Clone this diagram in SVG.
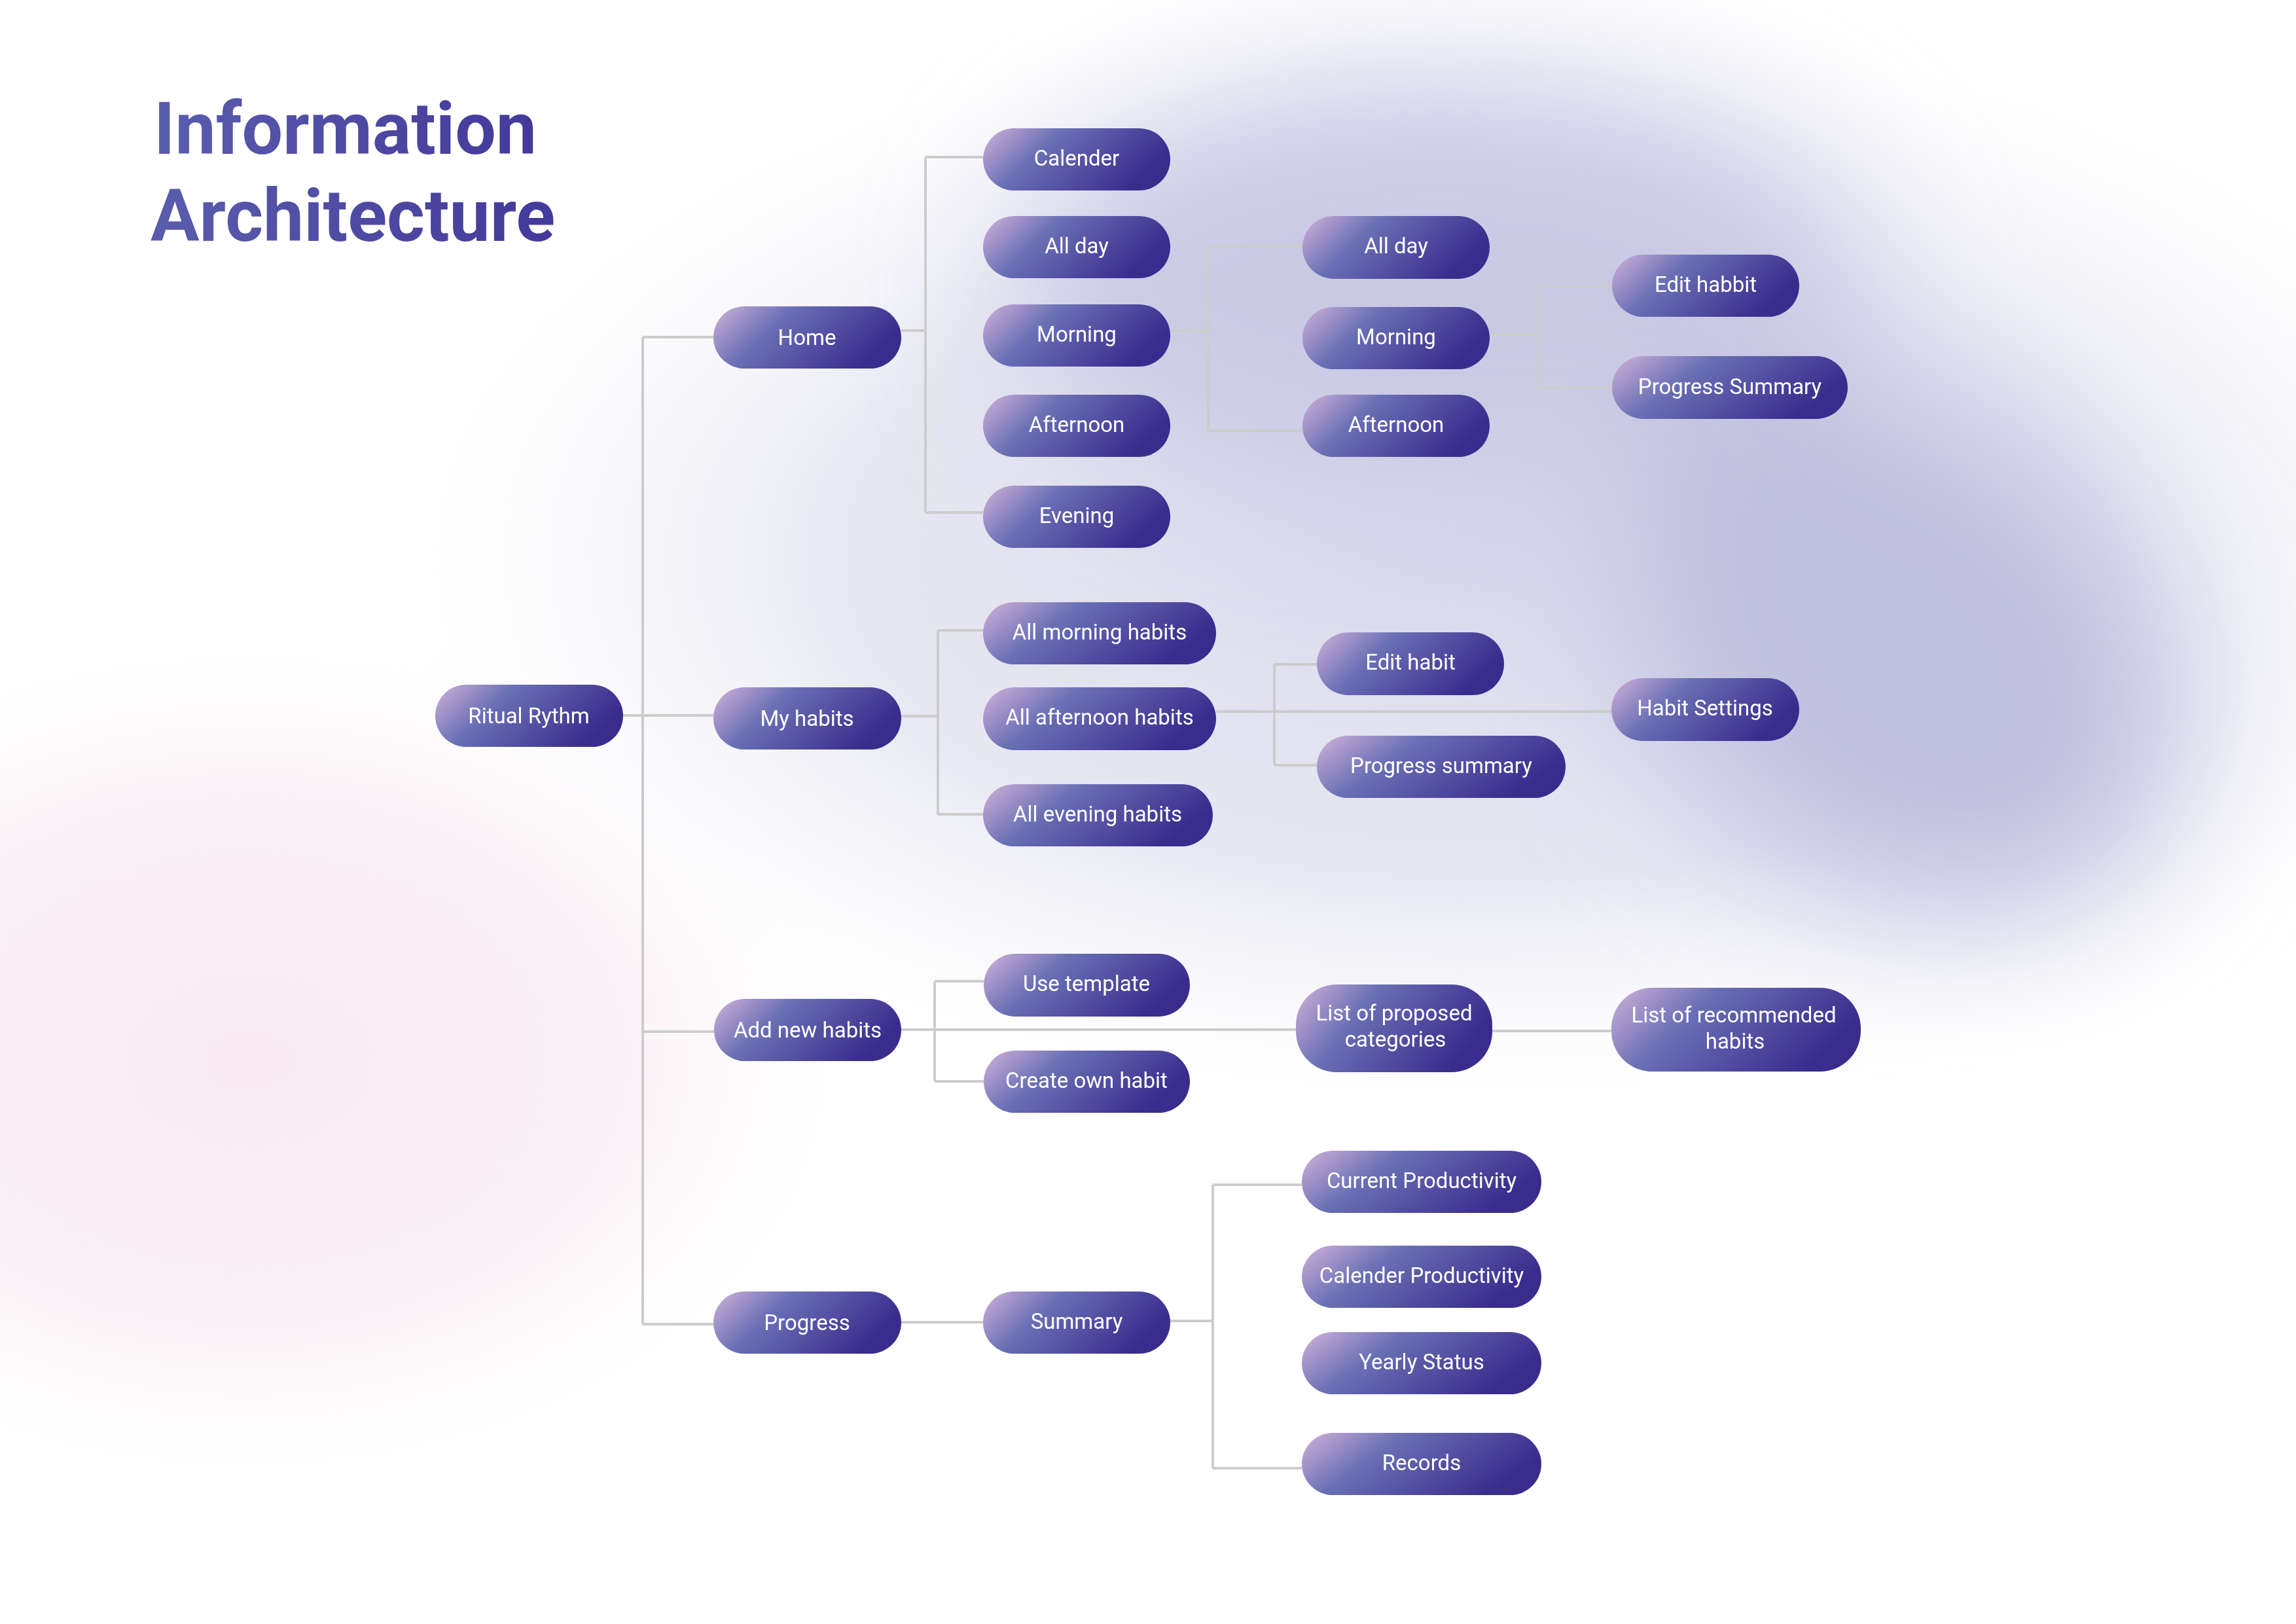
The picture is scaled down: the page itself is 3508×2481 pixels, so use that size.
<svg xmlns="http://www.w3.org/2000/svg" width="3508" height="2481" viewBox="0 0 3508 2481">
<defs>
<linearGradient id="nodeGrad" x1="0" y1="0" x2="1" y2="0.35">
<stop offset="0" stop-color="#D2B2D9"/>
<stop offset="0.38" stop-color="#6A70B5"/>
<stop offset="1" stop-color="#3A2C8D"/>
</linearGradient>
<linearGradient id="titleGrad" x1="0" y1="0" x2="1" y2="0">
<stop offset="0" stop-color="#5A5DAD"/>
<stop offset="1" stop-color="#43399A"/>
</linearGradient>
<radialGradient id="washGrad" cx="0.5" cy="0.5" r="0.5">
<stop offset="0" stop-color="#D9D9EC" stop-opacity="1"/>
<stop offset="0.55" stop-color="#E2E2F0" stop-opacity="0.8"/>
<stop offset="1" stop-color="#FFFFFF" stop-opacity="0"/>
</radialGradient>
<radialGradient id="pinkGrad" cx="0.5" cy="0.5" r="0.5">
<stop offset="0" stop-color="#F8E9F1" stop-opacity="1"/>
<stop offset="0.6" stop-color="#F9EEF4" stop-opacity="0.7"/>
<stop offset="1" stop-color="#FFFFFF" stop-opacity="0"/>
</radialGradient>
<filter id="blurBig" x="-50%" y="-50%" width="200%" height="200%">
<feGaussianBlur stdDeviation="110"/>
</filter>
<style>
.node rect { fill: url(#nodeGrad); }
.node text { font-family: Roboto, "Liberation Sans", sans-serif; font-size: 33px; fill: #FFFFFF; text-anchor: middle; }
.conn path { fill: none; stroke: #CCCCCC; stroke-width: 4; }
.title { font-family: Roboto, "Liberation Sans", sans-serif; font-weight: 700; font-size: 111px; fill: url(#titleGrad); }
</style>
</defs>
<rect x="0" y="0" width="3508" height="2481" fill="#FFFFFF"/>
<g id="background">
<ellipse cx="380" cy="1620" rx="1000" ry="700" fill="url(#pinkGrad)"/>
<ellipse cx="2250" cy="850" rx="1750" ry="900" fill="url(#washGrad)"/>
<g filter="url(#blurBig)">
<ellipse cx="2200" cy="440" rx="650" ry="320" fill="#C9C9E4"/>
<ellipse cx="2900" cy="990" rx="480" ry="360" transform="rotate(40 2900 990)" fill="#C0C0DF"/>
</g>
</g>
<g id="title">
<text class="title" x="235" y="235">Information</text>
<text class="title" x="230" y="368">Architecture</text>
</g>
<g id="connectors" class="conn">
<path d="M982 515 V2023"/>
<path d="M982 515 H1090"/>
<path d="M952 1093 H1090"/>
<path d="M982 1576 H1091"/>
<path d="M982 2023 H1090"/>
<path d="M1377 505 H1414"/>
<path d="M1414 240 V783"/>
<path d="M1414 240 H1502"/>
<path d="M1414 783 H1502"/>
<path d="M1788 505 H1846"/>
<path d="M1846 376 V658"/>
<path d="M1846 376 H1990"/>
<path d="M1846 658 H1990"/>
<path d="M2276 510 H2351"/>
<path d="M2351 437 V592"/>
<path d="M2351 437 H2463"/>
<path d="M2351 592 H2463"/>
<path d="M1377 1094 H1433"/>
<path d="M1433 963 V1244"/>
<path d="M1433 963 H1502"/>
<path d="M1433 1244 H1502"/>
<path d="M1858 1087 H2462"/>
<path d="M1947 1015 V1169"/>
<path d="M1947 1015 H2012"/>
<path d="M1947 1169 H2012"/>
<path d="M1377 1573 H1980"/>
<path d="M1428 1499 V1652"/>
<path d="M1428 1499 H1503"/>
<path d="M1428 1652 H1503"/>
<path d="M2280 1575 H2462"/>
<path d="M1377 2020 H1502"/>
<path d="M1788 2018 H1853"/>
<path d="M1853 1810 V2243"/>
<path d="M1853 1810 H1989"/>
<path d="M1853 2243 H1989"/>
</g>
<g id="node-ritual-rythm" class="node"><rect x="665" y="1046" width="287" height="95" rx="47.5"/><text x="808" y="1105">Ritual Rythm</text></g>
<g id="node-home" class="node"><rect x="1090" y="468" width="287" height="95" rx="47.5"/><text x="1233" y="527">Home</text></g>
<g id="node-my-habits" class="node"><rect x="1090" y="1050" width="287" height="95" rx="47.5"/><text x="1233" y="1109">My habits</text></g>
<g id="node-add-new-habits" class="node"><rect x="1091" y="1526" width="286" height="95" rx="47.5"/><text x="1234" y="1585">Add new habits</text></g>
<g id="node-progress" class="node"><rect x="1090" y="1973" width="287" height="95" rx="47.5"/><text x="1233" y="2032">Progress</text></g>
<g id="node-calender" class="node"><rect x="1502" y="196" width="286" height="95" rx="47.5"/><text x="1645" y="253">Calender</text></g>
<g id="node-all-day" class="node"><rect x="1502" y="330" width="286" height="95" rx="47.5"/><text x="1645" y="387">All day</text></g>
<g id="node-morning" class="node"><rect x="1502" y="465" width="286" height="95" rx="47.5"/><text x="1645" y="522">Morning</text></g>
<g id="node-afternoon" class="node"><rect x="1502" y="603" width="286" height="95" rx="47.5"/><text x="1645" y="660">Afternoon</text></g>
<g id="node-evening" class="node"><rect x="1502" y="742" width="286" height="95" rx="47.5"/><text x="1645" y="799">Evening</text></g>
<g id="node-all-day-2" class="node"><rect x="1990" y="330" width="286" height="96" rx="48"/><text x="2133" y="387">All day</text></g>
<g id="node-morning-2" class="node"><rect x="1990" y="469" width="286" height="95" rx="47.5"/><text x="2133" y="526">Morning</text></g>
<g id="node-afternoon-2" class="node"><rect x="1990" y="603" width="286" height="95" rx="47.5"/><text x="2133" y="660">Afternoon</text></g>
<g id="node-edit-habbit" class="node"><rect x="2463" y="389" width="286" height="95" rx="47.5"/><text x="2606" y="446">Edit habbit</text></g>
<g id="node-progress-summary-1" class="node"><rect x="2463" y="544" width="360" height="96" rx="48"/><text x="2643" y="602">Progress Summary</text></g>
<g id="node-all-morning-habits" class="node"><rect x="1502" y="920" width="356" height="95" rx="47.5"/><text x="1680" y="977">All morning habits</text></g>
<g id="node-all-afternoon-habits" class="node"><rect x="1502" y="1050" width="356" height="96" rx="48"/><text x="1680" y="1107">All afternoon habits</text></g>
<g id="node-all-evening-habits" class="node"><rect x="1502" y="1198" width="351" height="95" rx="47.5"/><text x="1677" y="1255">All evening habits</text></g>
<g id="node-edit-habit" class="node"><rect x="2012" y="966" width="286" height="96" rx="48"/><text x="2155" y="1023">Edit habit</text></g>
<g id="node-progress-summary-2" class="node"><rect x="2012" y="1124" width="380" height="95" rx="47.5"/><text x="2202" y="1181">Progress summary</text></g>
<g id="node-habit-settings" class="node"><rect x="2462" y="1036" width="287" height="96" rx="48"/><text x="2605" y="1093">Habit Settings</text></g>
<g id="node-use-template" class="node"><rect x="1503" y="1457" width="315" height="96" rx="48"/><text x="1660" y="1514">Use template</text></g>
<g id="node-create-own-habit" class="node"><rect x="1503" y="1605" width="315" height="95" rx="47.5"/><text x="1660" y="1662">Create own habit</text></g>
<g id="node-list-proposed" class="node"><rect x="1980" y="1504" width="300" height="134" rx="62"/><text x="2130" y="1559">List of proposed<tspan x="2132" y="1599">categories</tspan></text></g>
<g id="node-list-recommended" class="node"><rect x="2462" y="1509" width="381" height="128" rx="62"/><text x="2649" y="1562">List of recommended<tspan x="2651" y="1602">habits</tspan></text></g>
<g id="node-summary" class="node"><rect x="1502" y="1973" width="286" height="95" rx="47.5"/><text x="1645" y="2030">Summary</text></g>
<g id="node-current-productivity" class="node"><rect x="1989" y="1758" width="366" height="95" rx="47.5"/><text x="2172" y="1815">Current Productivity</text></g>
<g id="node-calender-productivity" class="node"><rect x="1989" y="1903" width="366" height="95" rx="47.5"/><text x="2172" y="1960">Calender Productivity</text></g>
<g id="node-yearly-status" class="node"><rect x="1989" y="2035" width="366" height="95" rx="47.5"/><text x="2172" y="2092">Yearly Status</text></g>
<g id="node-records" class="node"><rect x="1989" y="2189" width="366" height="95" rx="47.5"/><text x="2172" y="2246">Records</text></g>
</svg>
